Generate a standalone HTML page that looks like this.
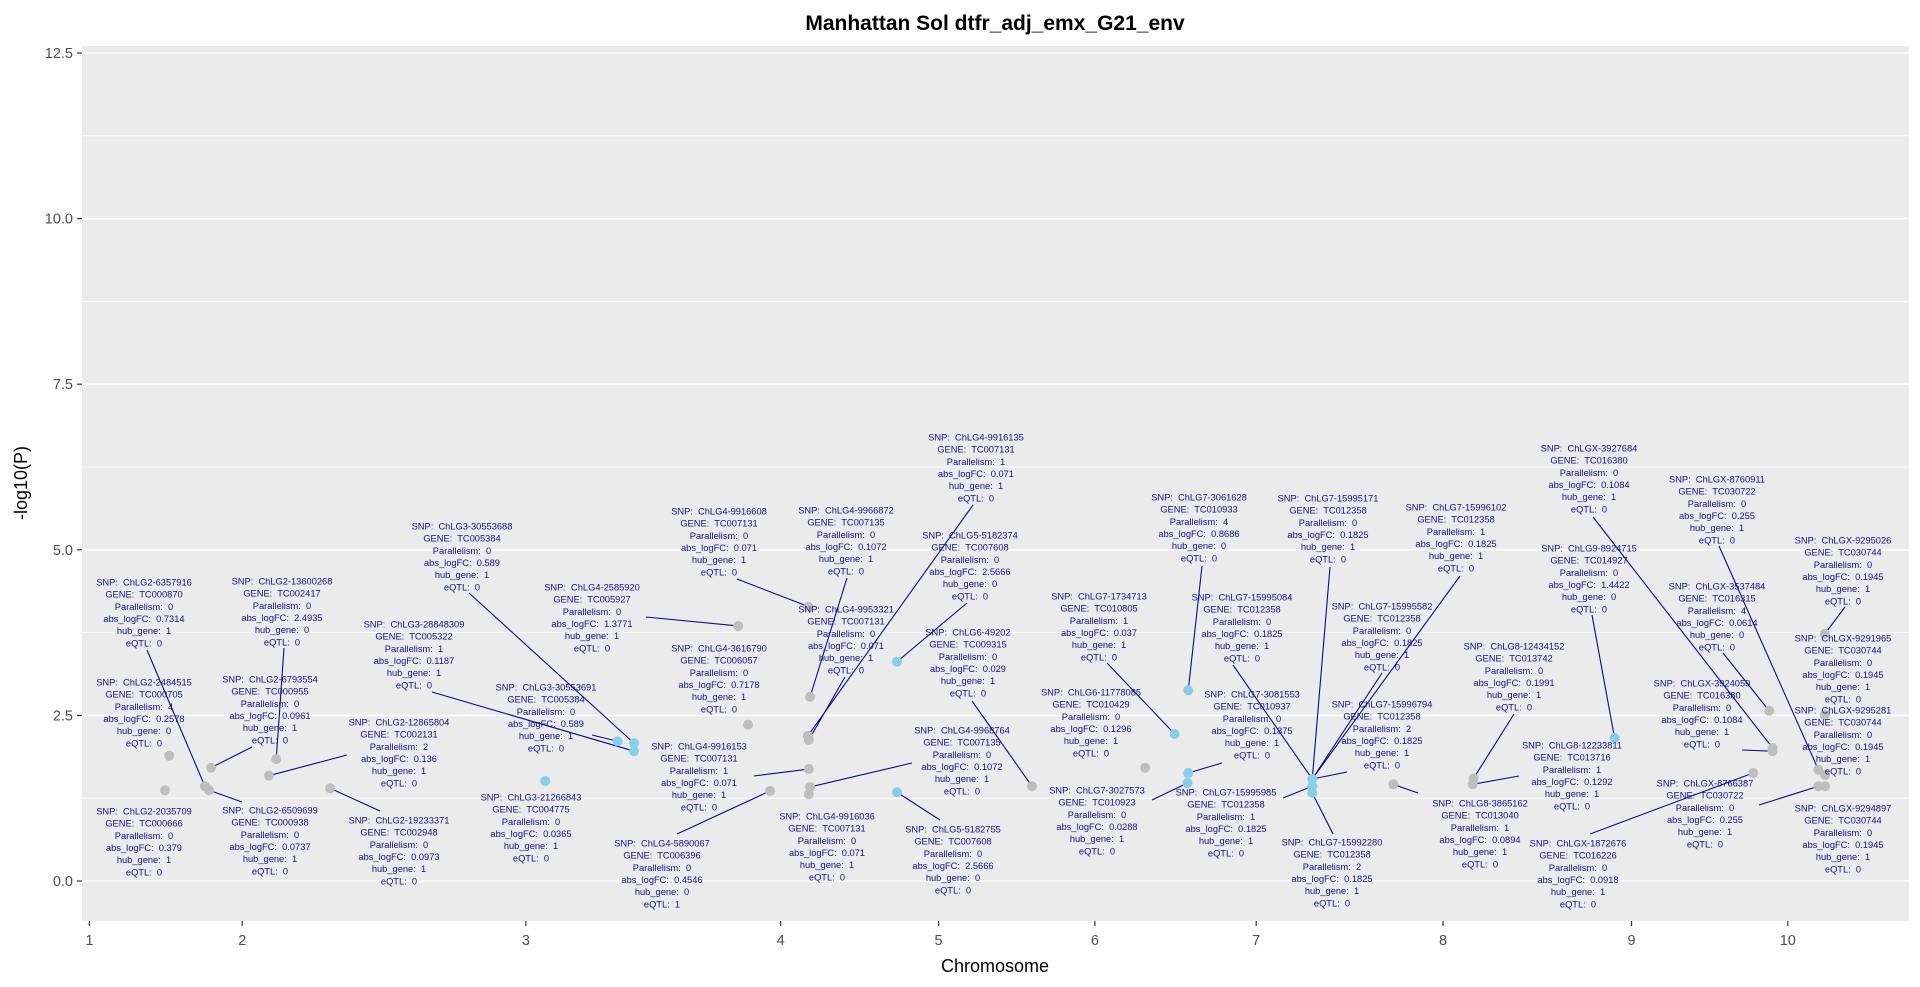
<!DOCTYPE html>
<html><head><meta charset="utf-8"><title>Manhattan Sol dtfr_adj_emx_G21_env</title>
<style>
html,body{margin:0;padding:0;background:#fff;}
svg{display:block;font-family:"Liberation Sans",Arial,sans-serif;}
.lab{font-size:9.3px;fill:#12128a;white-space:pre;}
</style></head>
<body>
<svg id="chart" width="1920" height="987" viewBox="0 0 1920 987" xmlns="http://www.w3.org/2000/svg">
<text x="995" y="30" text-anchor="middle" font-size="21" font-weight="bold" fill="#000">Manhattan Sol dtfr_adj_emx_G21_env</text>
<rect x="82" y="46" width="1827" height="875" fill="#ebebeb"/>
<g id="grid"></g>
<g id="yaxis"></g>
<g id="xaxis"></g>
<g id="leaders"></g>
<g id="points"></g>
<g id="labels"></g>
<text x="995" y="972" text-anchor="middle" font-size="18" fill="#000">Chromosome</text>
<text transform="translate(27,483) rotate(-90)" text-anchor="middle" font-size="18" fill="#000">-log10(P)</text>
</svg>
<script>
const chromTicks = [0, 90, 257, 407, 500, 592, 687, 797, 908, 1000];
const chromLabels = ["1","2","3","4","5","6","7","8","9","10"];
const yTicks = [0, 2.5, 5, 7.5, 10, 12.5];
const yTickLabels = ["0.0","2.5","5.0","7.5","10.0","12.5"];
const pointPos = [47,71.6,110,105.7,44.5,68,70.5,141.7,382,423.6,424.3,387.8,423,423.6,423.6,424.3,423.6,400.8,555,621.6,767.7,815,814.5,989,991,991,979.6,1021.8,1021.8,1018,1022,1018,1022,
 268.4,311,320.7,320.7,475.5,475.5,647,639,647,646.5,720,720,720,898];
const pointLogP = [1.89,1.71,1.84,1.59,1.37,1.43,1.37,1.40,3.85,4.14,2.78,2.36,2.19,2.13,1.69,1.42,1.31,1.36,1.43,1.71,1.46,1.55,1.46,2.57,2.01,1.96,1.63,3.73,2.51,1.68,1.60,1.43,1.43,
 1.51,2.11,2.08,1.96,3.31,1.34,2.88,2.22,1.63,1.48,1.54,1.43,1.33,2.16];
const pointHit = [0,0,0,0,0,0,0,0,0,0,0,0,0,0,0,0,0,0,0,0,0,0,0,0,0,0,0,0,0,0,0,0,0,
 1,1,1,1,1,1,1,1,1,1,1,1,1,1];
const labSnp = ["ChLG2-6357916","ChLG2-13600268","ChLG3-30553688","ChLG3-28848309","ChLG2-2484515","ChLG2-6793554","ChLG2-12865804","ChLG2-2035709","ChLG2-6509699","ChLG2-19233371","ChLG3-21266843","ChLG3-30553691","ChLG4-2585920","ChLG4-9916608","ChLG4-9966872","ChLG4-9916135","ChLG5-5182374","ChLG4-9953321","ChLG6-49202","ChLG4-3616790","ChLG4-9916153","ChLG4-9968764","ChLG4-5890067","ChLG4-9916036","ChLG5-5182755","ChLG7-3061628","ChLG7-15995171","ChLG7-15996102","ChLG7-1734713","ChLG7-15995084","ChLG7-15995582","ChLG6-11778085","ChLG7-3081553","ChLG7-15996794","ChLG7-3027573","ChLG7-15995985","ChLG7-15992280","ChLG8-3865162","ChLGX-3927684","ChLGX-8760911","ChLGX-9295026","ChLG9-8924715","ChLGX-3537484","ChLGX-9291965","ChLG8-12434152","ChLGX-3924059","ChLGX-9295281","ChLG8-12233811","ChLGX-8766387","ChLGX-9294897","ChLGX-1872676"];
const labGene = ["TC000870","TC002417","TC005384","TC005322","TC000705","TC000955","TC002131","TC000666","TC000938","TC002948","TC004775","TC005384","TC005927","TC007131","TC007135","TC007131","TC007608","TC007131","TC009315","TC006057","TC007131","TC007135","TC006396","TC007131","TC007608","TC010933","TC012358","TC012358","TC010805","TC012358","TC012358","TC010429","TC010937","TC012358","TC010923","TC012358","TC012358","TC013040","TC016380","TC030722","TC030744","TC014927","TC016315","TC030744","TC013742","TC016380","TC030744","TC013716","TC030722","TC030744","TC016226"];
const labPar = ["0","0","0","1","4","0","2","0","0","0","0","0","0","0","0","1","0","0","0","0","1","0","0","0","0","4","0","1","1","0","0","0","0","2","0","1","2","1","0","0","0","0","4","0","0","0","0","1","0","0","0"];
const labFC = ["0.7314","2.4935","0.589","0.1187","0.2578","0.0961","0.136","0.379","0.0737","0.0973","0.0365","0.589","1.3771","0.071","0.1072","0.071","2.5666","0.071","0.029","0.7178","0.071","0.1072","0.4546","0.071","2.5666","0.8686","0.1825","0.1825","0.037","0.1825","0.1825","0.1296","0.1875","0.1825","0.0288","0.1825","0.1825","0.0894","0.1084","0.255","0.1945","1.4422","0.0614","0.1945","0.1991","0.1084","0.1945","0.1292","0.255","0.1945","0.0918"];
const labHub = ["1","0","1","1","0","1","1","1","1","1","1","1","1","1","1","1","0","1","1","1","1","1","0","1","0","0","1","1","1","1","1","1","1","1","1","1","1","1","1","1","1","0","0","1","1","1","1","1","1","1","1"];
const labEqtl = ["0","0","0","0","0","0","0","0","0","0","0","0","0","0","0","0","0","0","0","0","0","0","1","0","0","0","0","0","0","0","0","0","0","0","0","0","0","0","0","0","0","0","0","0","0","0","0","0","0","0","0"];
// label layout (pixel placement from repel) – not data
const labCX = [144,282,462,414,144,270,399,144,270,399,531,546,592,719,846,976,970,846,968,719,699,962,662,827,953,1199,1328,1456,1099,1242,1382,1091,1252,1382,1097,1226,1332,1480,1589,1717,1843,1589,1717,1843,1514,1702,1843,1572,1705,1843,1578];
const labTY = [582,581,526,624,682,679,722,811,810,820,797,687,587,511,510,437,535,609,632,648,746,730,843,816,829,497,498,507,596,597,606,692,694,704,790,792,842,803,448,479,540,548,586,638,646,683,710,745,783,808,843];
const leadLab = [0,1,5,6,8,9,3,2,11,12,13,14,15,17,16,18,20,21,22,24,25,26,28,29,30,27,32,34,35,33,36,37,38,39,40,41,42,44,45,47,48,50];
const leadPt  = [5,2,1,3,6,7,36,35,34,8,9,10,12,13,37,18,14,15,17,38,39,43,40,43,43,43,41,42,44,43,45,20,24,29,27,46,23,21,25,22,31,26];
const leadAX = [147,284,252,347,242,380,432,469,592,646,737,847,973,845,967,972,754,912,677,940,1202,1330,1107,1233,1382,1460,1222,1152,1283,1347,1333,1418,1593,1719,1845,1592,1723,1514,1742,1519,1759,1590];
const leadAY = [650,648,747,755,802,811,692,593,735,617,579,578,505,677,603,701,776,763,834,820,566,567,663,665,673,576,763,800,798,772,834,793,517,546,607,615,653,714,750,776,805,834];

const NS = "http://www.w3.org/2000/svg";
const X0 = 89.4, X1 = 1787.8, Y0 = 881, Y1 = 53;
function sx(u){ return X0 + (u - 0) / 1000 * (X1 - X0); }
function sy(v){ return Y0 + (v - 0) / 12.5 * (Y1 - Y0); }
function mk(tag, attrs, parent){ const e = document.createElementNS(NS, tag); for (const k in attrs) e.setAttribute(k, attrs[k]); parent.appendChild(e); return e; }

const grid = document.getElementById('grid');
for (let i = 0; i < yTicks.length; i++) {
  const y = sy(yTicks[i]);
  const g = mk('line', {x1:82, x2:1909, y1:y, y2:y, stroke:'#fff', 'stroke-width':1.6}, grid);
  
  
  if (i < yTicks.length - 1) {
    const ym = sy((yTicks[i] + yTicks[i+1]) / 2);
    const m = mk('line', {x1:82, x2:1909, y1:ym, y2:ym, stroke:'#fff', 'stroke-width':0.8}, grid);
    
    
  }
}
const ya = document.getElementById('yaxis');
for (let i = 0; i < yTicks.length; i++) {
  const y = sy(yTicks[i]);
  const t = mk('line', {x1:77, x2:82, y1:y, y2:y, stroke:'#333', 'stroke-width':1.2}, ya);
  
  
  const l = mk('text', {x:73, y:y+5, 'text-anchor':'end', 'font-size':14.5, fill:'#4d4d4d'}, ya);
  l.textContent = yTickLabels[i];
  
  
}
const xa = document.getElementById('xaxis');
for (let i = 0; i < chromTicks.length; i++) {
  const x = sx(chromTicks[i]);
  const t = mk('line', {x1:x, x2:x, y1:921, y2:926, stroke:'#333', 'stroke-width':1.2}, xa);
  
  
  const l = mk('text', {x:x, y:945, 'text-anchor':'middle', 'font-size':14.5, fill:'#4d4d4d'}, xa);
  l.textContent = chromLabels[i];
  
  
}
const pts = document.getElementById('points');
for (let i = 0; i < pointPos.length; i++) {
  const c = mk('circle', {cx:sx(pointPos[i]), cy:sy(pointLogP[i]), r:5, fill: pointHit[i] ? '#87ceeb' : '#bebebe'}, pts);
  
  
}
const ld = document.getElementById('leaders');
for (let i = 0; i < leadLab.length; i++) {
  const p = leadPt[i];
  const s = mk('line', {x1:leadAX[i], y1:leadAY[i], x2:sx(pointPos[p]), y2:sy(pointLogP[p]), stroke:'#0a0a8a', 'stroke-width':1.1}, ld);
  
  
}
const lb = document.getElementById('labels');
for (let i = 0; i < labSnp.length; i++) {
  const g = mk('g', {}, lb);
  
  
  const lines = ["SNP:  " + labSnp[i], "GENE:  " + labGene[i], "Parallelism:  " + labPar[i], "abs_logFC:  " + labFC[i], "hub_gene:  " + labHub[i], "eQTL:  " + labEqtl[i]];
  for (let j = 0; j < lines.length; j++) {
    const t = mk('text', {x:labCX[i], y:labTY[i] + j*12.2 + 3.4, 'text-anchor':'middle', class:'lab'}, g);
    t.textContent = lines[j];
    
    
  }
}
</script>
</body></html>
